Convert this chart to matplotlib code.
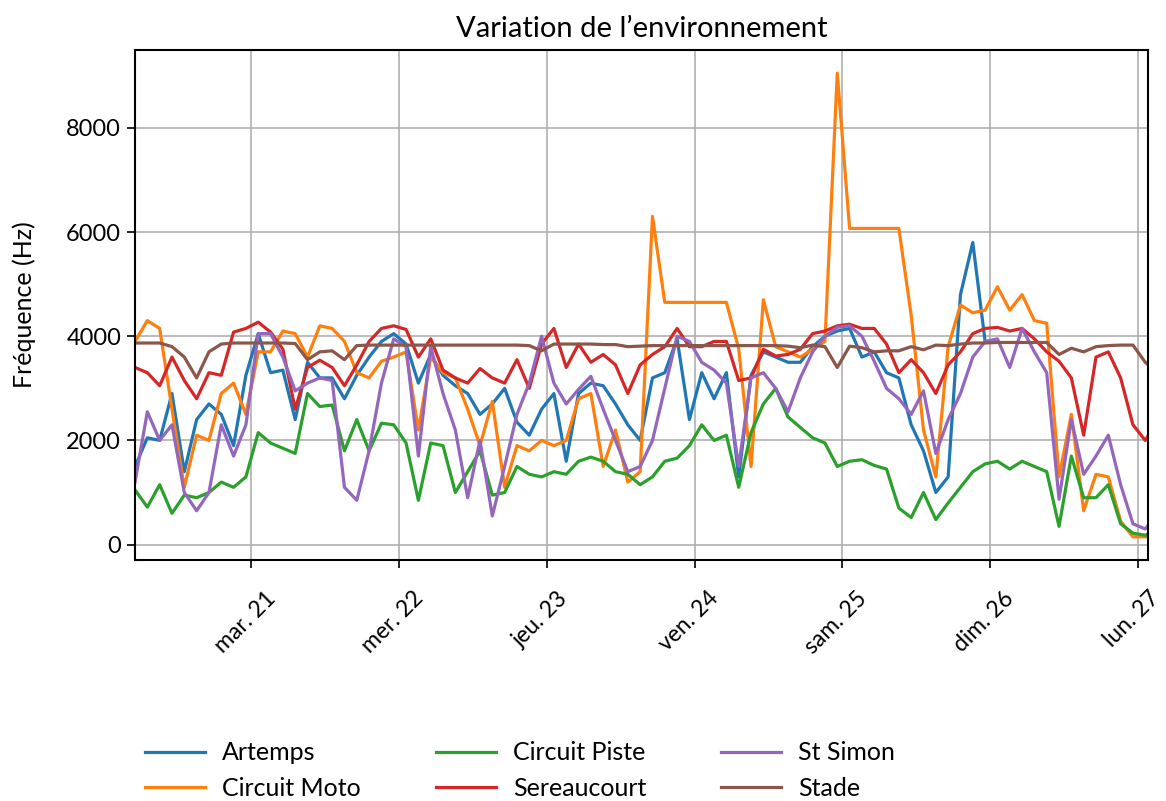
import matplotlib
matplotlib.use("Agg")
import matplotlib.pyplot as plt
import matplotlib.transforms as mtransforms
import numpy as np
import pandas as pd

plt.rcParams['font.family'] = ['Lato', 'DejaVu Sans']

# ---------------- data (2-hourly readings) ----------------
times = pd.date_range("2023-03-20 05:10", periods=84, freq="2h")

artemps = [1500, 2050, 2000, 2900, 1400, 2400, 2700, 2500, 1900, 3250,
           4050, 3300, 3350, 2400, 3500, 3200, 3200, 2800, 3250, 3600,
           3900, 4050, 3850, 3100, 3650, 3250, 3050, 2900, 2500, 2700,
           3000, 2350, 2100, 2600, 2900, 1600, 2900, 3100, 3050, 2700,
           2300, 2000, 3200, 3300, 3950, 2400, 3300, 2800, 3300, 1300,
           3250, 3700, 3600, 3500, 3500, 3800, 4000, 4100, 4150, 3600,
           3700, 3300, 3200, 2300, 1800, 1000, 1300, 4800, 5800, 3900,
           np.nan, np.nan, np.nan, np.nan, np.nan, np.nan, np.nan, np.nan, np.nan, np.nan,
           np.nan, np.nan, np.nan, np.nan]

circuit_moto = [3900, 4300, 4150, 2600, 1100, 2100, 2000, 2900, 3100, 2500,
                3700, 3700, 4100, 4050, 3600, 4200, 4150, 3900, 3300, 3200,
                3520, 3600, 3700, 2200, 3600, 3300, 3200, 2600, 1900, 2750,
                1100, 1900, 1800, 2000, 1900, 2000, 2800, 2900, 1500, 2200,
                1200, 1400, 6300, 4650, 4650, 4650, 4650, 4650, 4650, 3760,
                1500, 4700, 3800, 3700, 3600, 3750, 3900, 9050, 6070, 6070,
                6070, 6070, 6070, 4400, 2200, 1300, 3800, 4600, 4450, 4500,
                4950, 4500, 4800, 4300, 4250, 1300, 2500, 650, 1350, 1300,
                450, 150, 150, 150]

circuit_piste = [1050, 720, 1150, 600, 950, 900, 1000, 1200, 1100, 1300,
                 2150, 1950, 1850, 1750, 2900, 2650, 2680, 1800, 2400, 1800,
                 2330, 2300, 1950, 850, 1950, 1900, 1000, 1400, 1800, 950,
                 1000, 1500, 1350, 1300, 1400, 1350, 1600, 1680, 1600, 1400,
                 1350, 1150, 1300, 1600, 1660, 1900, 2300, 2000, 2100, 1100,
                 2150, 2700, 3000, 2450, 2250, 2050, 1950, 1500, 1600, 1630,
                 1520, 1450, 700, 520, 1000, 480, 800, 1100, 1400, 1550,
                 1600, 1450, 1600, 1500, 1400, 350, 1700, 900, 900, 1150,
                 400, 220, 180, 300]

sereaucourt = [3400, 3300, 3050, 3600, 3150, 2800, 3300, 3250, 4080, 4150,
               4270, 4080, 3750, 2600, 3400, 3540, 3400, 3050, 3450, 3900,
               4150, 4200, 4130, 3600, 3950, 3350, 3200, 3100, 3380, 3200,
               3100, 3550, 3000, 3850, 4150, 3400, 3850, 3500, 3650, 3450,
               2900, 3450, 3650, 3800, 4150, 3800, 3800, 3900, 3900, 3150,
               3200, 3750, 3620, 3650, 3750, 4050, 4100, 4200, 4230, 4150,
               4150, 3850, 3300, 3550, 3300, 2900, 3450, 3700, 4050, 4150,
               4170, 4100, 4150, 3950, 3700, 3520, 3200, 2100, 3600, 3700,
               3200, 2300, 2000, 2400]

st_simon = [1200, 2550, 2000, 2300, 1000, 650, 1000, 2300, 1700, 2300,
            4050, 4050, 3600, 2950, 3100, 3200, 3150, 1100, 850, 1800,
            3100, 3950, 3800, 1700, 3800, 2900, 2200, 900, 2000, 550,
            1500, 2500, 3100, 4000, 3100, 2700, 2980, 3230, 2600, 2000,
            1400, 1500, 2000, 3000, 4000, 3900, 3500, 3350, 3100, 1500,
            3200, 3300, 3000, 2550, 3200, 3700, 4000, 4170, 4200, 4000,
            3520, 3000, 2800, 2500, 2950, 1750, 2400, 2900, 3600, 3900,
            3950, 3400, 4150, 3700, 3300, 870, 2400, 1350, 1700, 2100,
            1150, 400, 300, 600]

stade = [3870, 3870, 3870, 3800, 3600, 3200, 3700, 3850, 3870, 3870,
         3870, 3870, 3870, 3860, 3550, 3700, 3720, 3550, 3820, 3830,
         3830, 3830, 3830, 3830, 3830, 3830, 3830, 3830, 3830, 3830,
         3830, 3830, 3820, 3720, 3850, 3850, 3850, 3850, 3840, 3840,
         3800, 3810, 3820, 3820, 3820, 3820, 3820, 3820, 3820, 3820,
         3820, 3820, 3820, 3810, 3780, 3830, 3800, 3400, 3810, 3780,
         3700, 3720, 3720, 3800, 3740, 3830, 3820, 3850, 3870, 3870,
         3880, 3880, 3880, 3880, 3880, 3650, 3770, 3700, 3800, 3820,
         3830, 3830, 3500, 3300]

series_names = ["Artemps", "Circuit Moto", "Circuit Piste", "Sereaucourt", "St Simon", "Stade"]
series_values = [artemps, circuit_moto, circuit_piste, sereaucourt, st_simon, stade]
colors = ["#1f77b4", "#ff7f0e", "#2ca02c", "#d62728", "#9467bd", "#8c564b"]

day_ticks = pd.date_range("2023-03-21", periods=7, freq="D")
day_labels = ["mar. 21", "mer. 22", "jeu. 23", "ven. 24", "sam. 25", "dim. 26", "lun. 27"]
y_ticks = [0, 2000, 4000, 6000, 8000]

title = "Variation de l\u2019environnement"
ylabel = "Fréquence (Hz)"

# ---------------- figure ----------------
fig = plt.figure(figsize=(11.66, 8.01), dpi=100)
ax = fig.add_axes([0.1158, 0.3009, 0.8688, 0.6367])

for name, vals, c in zip(series_names, series_values, colors):
    ax.plot(times, vals, color=c, lw=2.3, label=name)

ax.set_xlim(pd.Timestamp("2023-03-20 05:10"), pd.Timestamp("2023-03-27 01:37"))
ax.set_xticks(day_ticks)
ax.set_xticklabels(day_labels, rotation=45, ha="center", fontsize=16.5)
ax.set_yticks(y_ticks)
ax.set_yticklabels([str(v) for v in y_ticks], fontsize=17)
ax.tick_params(direction="out", length=6, width=1.2, colors="black")
ax.tick_params(axis="y", pad=4)
ax.tick_params(axis="x", pad=14)
shift = mtransforms.ScaledTranslation(-6 / 100, 0, fig.dpi_scale_trans)
for lab in ax.get_xticklabels():
    lab.set_transform(lab.get_transform() + shift)
ax.grid(True, color="#b0b0b0", lw=1.2)
for s in ax.spines.values():
    s.set_linewidth(1.5)
    s.set_color("black")

ax.set_title(title, fontsize=21, pad=9)
ax.set_ylabel(ylabel, fontsize=18, labelpad=22)

fig.legend(loc="upper left", bbox_to_anchor=(0.105, 0.1024), ncol=3, frameon=False,
           fontsize=18, handlelength=2.4, handletextpad=0.68, columnspacing=3.0,
           labelspacing=0.5)

fig.savefig("out.png", dpi=100)
